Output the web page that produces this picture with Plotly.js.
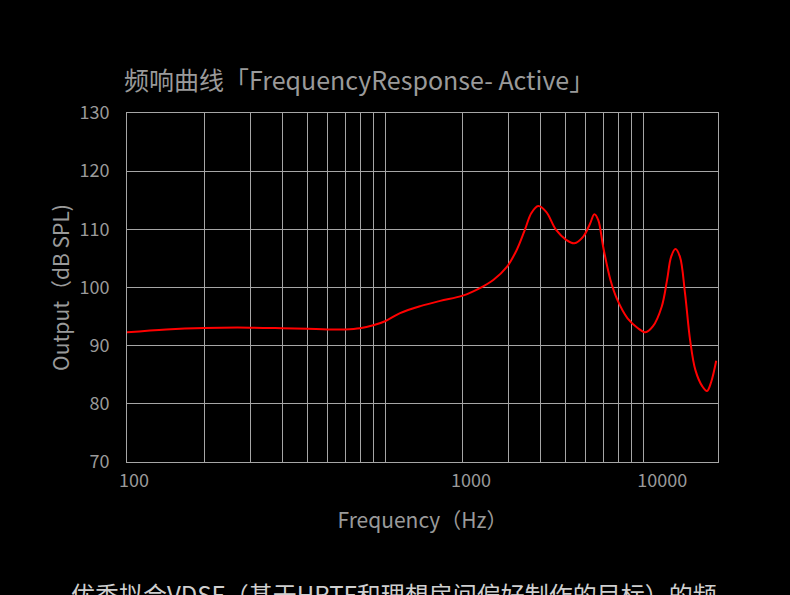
<!DOCTYPE html>
<html>
<head>
<meta charset="utf-8">
<script src="https://cdn.plot.ly/plotly-3.0.1.min.js"></script>
<style>html,body{margin:0;padding:0;background:#000;}#chart{width:790px;height:595px;}</style>
</head>
<body>
<div id="chart"></div>
<script>
// Frequency response data (Hz, dB SPL)
const freqHz = [100, 142, 200, 300, 400, 500, 600, 700, 800, 900, 1000, 1143, 1370, 1635, 2000, 2330, 2626, 2970, 3240, 3480, 3690, 3920, 4210, 4600, 5030, 5410, 5870, 6230, 6470, 6700, 7000, 7470, 7940, 8700, 9550, 10200, 10900, 11800, 12380, 12840, 13340, 13880, 14530, 15200, 15940, 16960, 17680, 18360, 19190];
const outputDb = [92.3, 92.8, 93.05, 93.1, 93.0, 92.9, 92.8, 92.8, 93.0, 93.5, 94.2, 95.6, 96.8, 97.7, 98.6, 99.9, 101.3, 103.6, 106.5, 109.9, 112.8, 114.0, 113.0, 109.9, 108.2, 107.6, 108.8, 111.0, 112.6, 111.6, 107.0, 101.3, 97.9, 94.7, 93.0, 92.3, 93.3, 96.7, 101.3, 105.3, 106.6, 105.3, 99.0, 91.0, 85.8, 83.0, 82.2, 83.8, 87.4];

// Grid lines (log decades) and tick labels as drawn in the reference
const gridFreqs = [100, 200, 300, 400, 500, 600, 700, 800, 900, 1000, 2000, 3000, 4000, 5000, 6000, 7000, 8000, 9000, 10000];
const xLabelText = ['100', '1000', '10000'];
const xLabelPos = [106.4, 2154, 11850];
const yTicks = [70, 80, 90, 100, 110, 120, 130];

const titleText = '频响曲线「FrequencyResponse- Active」';
const xTitle = 'Frequency（Hz）';
const yTitle = 'Output（dB SPL)';
const footerText = '优秀拟合VDSF（基于HRTF和理想房间偏好制作的目标）的频';

const FONT = '"Noto Sans CJK SC", "Noto Sans", sans-serif';
const GRID = '#a6a6a6';
const TXT = '#9a9a9a';
const xRange = [2, Math.log10(19500)];

const traces = [{
  x: freqHz,
  y: outputDb,
  type: 'scatter',
  mode: 'lines',
  line: {color: '#ff0000', width: 2, shape: 'spline', smoothing: 1},
  hoverinfo: 'x+y',
  showlegend: false
}, {
  x: [xLabelPos[0]],
  y: [70],
  xaxis: 'x2',
  type: 'scatter',
  mode: 'markers',
  marker: {opacity: 0},
  hoverinfo: 'skip',
  showlegend: false
}];

const layout = {
  width: 790,
  height: 595,
  paper_bgcolor: '#000',
  plot_bgcolor: '#000',
  margin: {l: 127, r: 72, t: 113, b: 133},
  font: {family: FONT, color: TXT},
  title: {
    text: titleText,
    font: {family: FONT, size: 25, color: TXT},
    xref: 'container', yref: 'container',
    x: 124 / 790, xanchor: 'left',
    y: 1 - 81 / 595, yanchor: 'middle'
  },
  xaxis: {
    type: 'log',
    range: xRange,
    tickmode: 'array',
    tickvals: gridFreqs,
    showticklabels: false,
    ticks: '',
    showgrid: true,
    gridcolor: GRID,
    gridwidth: 1,
    zeroline: false,
    showline: true,
    linecolor: GRID,
    linewidth: 1,
    mirror: true,
    fixedrange: true
  },
  xaxis2: {
    type: 'log',
    range: xRange,
    overlaying: 'x',
    side: 'bottom',
    tickmode: 'array',
    tickvals: xLabelPos,
    ticktext: xLabelText,
    ticks: '',
    showgrid: false,
    showline: false,
    zeroline: false,
    ticklabelstandoff: 6,
    tickfont: {family: FONT, size: 18, color: TXT},
    fixedrange: true,
    title: {text: xTitle, font: {family: FONT, size: 21, color: TXT}, standoff: 22}
  },
  yaxis: {
    range: [70, 130],
    tickmode: 'array',
    tickvals: yTicks,
    ticks: '',
    showgrid: true,
    gridcolor: GRID,
    gridwidth: 1,
    zeroline: false,
    showline: true,
    linecolor: GRID,
    linewidth: 1,
    mirror: true,
    ticklabelstandoff: 13,
    tickfont: {family: FONT, size: 18, color: TXT},
    fixedrange: true,
    title: {text: yTitle, font: {family: FONT, size: 21, color: TXT}, standoff: 4}
  },
  annotations: [{
    text: footerText,
    xref: 'paper', yref: 'paper',
    x: (394 - 127) / 591, xanchor: 'center',
    y: -(593 - 462) / 349, yanchor: 'middle',
    showarrow: false,
    font: {family: FONT, size: 24, color: '#cfcfcf'}
  }]
};

Plotly.newPlot('chart', traces, layout, {displayModeBar: false, staticPlot: true});
</script>
</body>
</html>
